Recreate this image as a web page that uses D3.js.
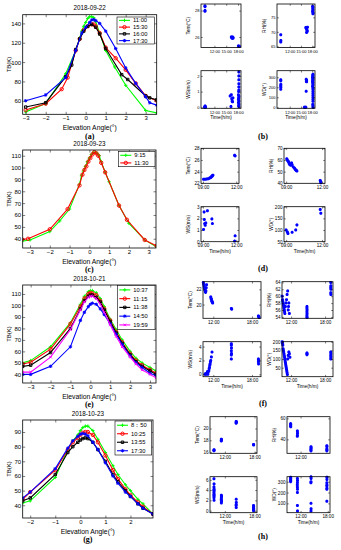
<!DOCTYPE html>
<html>
<head>
<meta charset="utf-8">
<script src="https://cdn.jsdelivr.net/npm/d3@7"></script>
<style>
body { margin: 0; background: #fff; }
</style>
</head>
<body>
<svg id="fig" width="341" height="550"></svg>
<script>
// ---- (a) 2018-09-22 brightness temperature vs elevation angle
var aLabels = ["11:00", "15:30", "16:00", "17:30"];
var aAngG = [-3.0, -2.0, -1.0, -0.5, -0.3, -0.2, -0.1, 0, 0.1, 0.2, 0.3, 0.4, 0.5, 0.7, 1.0, 1.45, 2.0, 3.0, 3.55];
var aTbG  = [48.5, 57, 88, 112, 125, 132, 137, 141, 145, 147, 147, 146, 142, 130, 112, 95, 76, 50, 47.5];
var aAngR = [-3.0, -2.0, -1.2, -0.9, -0.5, -0.3, -0.1, 0.1, 0.3, 0.4, 0.5, 0.7, 1.0, 1.5, 2.0, 2.5, 3.0, 3.55];
var aTbR  = [50.5, 57, 72, 84, 112, 124, 133, 137, 139, 139, 137, 130, 115, 104, 92, 78, 65, 60];
var aAngK = [-3.0, -2.0, -1.0, -0.7, -0.5, -0.3, -0.1, 0.1, 0.3, 0.5, 0.7, 1.0, 1.8, 2.1, 3.0, 3.2, 3.55];
var aTbK  = [53.5, 58, 85, 97, 113, 124, 132, 137, 139, 136, 129, 114, 87, 82, 65, 63, 61];
var aAngB = [-3.0, -2.0, -1.0, -0.5, -0.2, 0, 0.2, 0.3, 0.4, 0.5, 0.7, 1.0, 1.5, 2.0, 2.5, 3.0, 3.2, 3.55];
var aTbB  = [60, 66, 84, 112, 130, 136, 141, 143.5, 144, 143, 140, 132, 114, 94, 78, 64, 58, 55.5];

// ---- (c) 2018-09-23
var cLabels = ["9:15", "11:30"];
var cAngG = [-3.4, -3.0, -2.0, -1.5, -1.0, -0.5, -0.4, -0.3, -0.2, -0.1, 0, 0.1, 0.2, 0.3, 0.4, 0.5, 0.6, 0.8, 1.0, 1.5, 2.0, 2.8, 3.4];
var cTbG  = [38, 39, 46, 55, 65, 86, 93, 97, 101, 105, 108, 111, 112.5, 113, 112, 110, 105, 96, 88, 68, 53, 39, 33];
var cAngR = [-3.4, -3.1, -2.0, -1.1, -0.5, -0.35, -0.25, -0.15, -0.05, 0.05, 0.15, 0.25, 0.35, 0.45, 0.6, 0.8, 1.5, 1.9, 2.8, 3.4];
var cTbR  = [39.5, 40, 48, 65, 85, 94, 98, 101, 105, 108, 111, 113, 112, 110, 104, 96, 68, 56, 39, 34];

// ---- (e) 2018-10-21
var eLabels = ["10:37", "11:15", "11:38", "14:50", "19:59"];
var eAng = [-3.4, -3.0, -2.0, -1.0, -0.5, -0.3, -0.1, 0, 0.1, 0.3, 0.5, 0.7, 1.0, 1.3, 1.6, 2.0, 2.3, 2.6, 3.0, 3.3];
var eTbG = [50, 52, 64, 85, 101, 108, 112, 113, 113, 111, 106, 99, 88, 79, 70, 60, 54, 50, 46, 43];
var eTbR = [49, 50.5, 62, 84, 99, 106, 110, 111, 110.5, 109, 104, 97, 87, 77, 68, 58, 52, 48, 44, 41];
var eTbK = [47, 48, 59, 80, 97, 104, 108, 109, 109, 107, 103, 96, 86, 76, 67, 57, 51, 47, 43, 40];
var eTbB = [40, 40, 47, 64, 87, 94, 99, 101, 102, 101, 97, 92, 84, 75, 66, 56, 50, 46, 41, 39];
var eTbM = [42, 42, 55, 79, 96, 103, 107, 108, 108, 106, 101, 94, 83, 73, 64, 55, 49, 44, 40, 37];

// ---- (g) 2018-10-23
var gLabels = ["8：50", "10:25", "13:55", "17:30"];
var gAng = [-2.3, -2.0, -1.0, -0.5, -0.3, -0.1, 0, 0.1, 0.2, 0.3, 0.5, 0.7, 1.0, 1.3, 1.5, 1.8, 2.0, 2.3, 2.5, 2.9];
var gTbG = [41.5, 43, 59, 78, 84, 88, 91, 93, 94, 94, 91, 85, 76, 67, 61, 54, 50, 44, 41, 34];
var gTbR = [44, 49, 64, 78, 83, 86, 88, 89.5, 90, 90, 88, 83, 74, 64, 58, 51, 47, 42, 39, 34];
var gTbK = [43, 45, 61, 76, 80, 83, 84.5, 85.5, 86, 85.5, 83, 78, 70, 61, 56, 50, 46, 41, 38, 34];
var gTbB = [45, 49, 65, 79, 84, 87, 88.5, 89, 88.5, 87.5, 83, 78, 69, 60, 55, 49, 46, 41, 38, 34];

// ---- weather station records [hour, value]
var bTem = [[9.6,28.35],[9.62,28.3],[9.6,27.95],[9.62,28.0],[16.3,26.0],[16.4,25.95],[16.5,25.9],[16.6,26.0],[16.7,25.9],[16.75,25.95],[18.1,25.32],[18.2,25.28],[18.3,25.3],[18.25,25.27]];
var bRH  = [[9.6,69],[9.62,67],[9.6,66.5],[16.3,71.5],[16.4,71.3],[16.5,71],[16.6,70.6],[16.7,70.2],[16.5,69.8],[16.75,71.6],[18.1,78.8],[18.2,78.5],[18.15,78],[18.2,77.5],[18.1,77],[18.25,76.6],[18.2,76.2]];
var bWS  = [[9.5,0],[9.6,0.05],[9.65,0.08],[9.7,0.02],[9.75,0],[16.0,0.72],[16.3,0.8],[16.4,0.55],[16.5,0.4],[16.6,0.35],[16.2,0.05],[16.7,0.6],[18.2,2.25],[18.2,2.0],[18.2,1.75],[18.2,1.5],[18.2,1.3],[18.2,1.1],[18.15,1.0],[18.1,0.8],[18.2,0.7],[18.15,0.6],[18.1,0.5],[18.2,0.4],[18.1,0.3],[18.2,0.2],[18.15,0.1],[18.2,0.05]];
var bWD  = [[9.6,275],[9.6,265],[9.62,230],[9.6,215],[9.62,200],[9.6,180],[16.4,280],[16.5,270],[16.45,260],[16.5,255],[16.4,160],[15.9,0],[16.1,0],[16.3,0],[18.2,330],[18.15,320],[18.2,310],[18.1,300],[18.2,290],[18.15,280],[18.2,270],[18.1,260],[18.2,250],[18.15,240],[18.2,225],[18.1,210],[18.2,195],[18.2,180],[18.2,160],[18.2,140],[18.2,120],[18.2,100],[18.2,80],[18.2,60],[18.15,30],[18.2,15],[18.2,0]];

var dTem = [[9.05,22.7],[9.2,22.7],[9.35,22.75],[9.5,22.8],[9.6,22.9],[9.7,23.0],[9.75,23.1],[9.8,23.2],[9.85,23.3],[9.9,23.4],[11.85,26.8],[11.9,26.7]];
var dRH  = [[9.05,61],[9.1,60],[9.15,59],[9.2,58.5],[9.25,57],[9.3,56],[9.4,55.5],[9.45,57.5],[9.5,56],[9.6,54],[9.7,53],[9.75,52],[9.8,51.5],[9.85,51],[9.9,50.5],[11.85,42.5],[11.88,41.5],[11.9,40.5]];
var dWS  = [[9.05,1.05],[9.1,2.55],[9.12,1.9],[9.15,1.55],[9.2,1.4],[9.25,1.6],[9.4,2.65],[9.8,1.95],[9.85,1.55],[11.85,0.05],[11.9,0.5]];
var dWD  = [[9.0,100],[9.1,92],[9.15,85],[9.5,90],[9.8,100],[9.9,122],[11.85,188],[11.9,172]];

var fTem = [[10.45,22.9],[10.5,22.7],[10.55,22.5],[10.6,22.3],[10.65,22.1],[10.7,21.9],[10.75,21.7],[10.8,21.6],[10.85,21.8],[10.9,22.2],[10.95,22.6],[11.6,21.0],[11.65,20.8],[11.7,20.7],[11.75,20.5],[11.8,20.4],[11.85,20.3],[11.9,20.2],[14.8,19.5],[14.85,19.4],[19.0,18.5],[19.05,18.4],[19.1,18.3]];
var fRH  = [[10.45,60],[10.5,59],[10.55,58.5],[10.6,58],[10.65,57.5],[10.7,57],[10.75,56.5],[10.8,56],[10.85,55.5],[10.9,55],[11.0,57],[11.1,58],[11.2,59],[11.3,60.5],[11.4,61.5],[11.5,56],[11.55,57],[11.6,58],[11.7,55],[14.8,57],[14.8,56.5],[14.82,56],[14.8,55.5],[14.82,55],[14.8,54.5],[14.8,54],[14.82,53.8],[19.0,64],[19.02,63],[19.0,62.5],[19.02,62],[19.0,61],[19.02,60.5]];
var fWS  = [[10.7,0],[10.8,0.1],[10.9,0],[11.0,0.2],[11.1,0.4],[11.15,0],[11.2,0.3],[11.3,0.5],[11.35,0.8],[11.4,1.0],[11.45,1.3],[11.5,1.5],[11.55,1.8],[11.6,2.0],[11.7,2.5],[11.8,3.2],[14.8,4.4],[14.8,4.2],[14.82,3.8],[14.8,3.4],[14.82,3.0],[14.8,2.8],[14.8,2.2],[19.0,2.2],[19.02,2.0],[19.0,1.8],[19.02,1.5]];
var fWD  = [[10.45,200],[10.5,190],[10.55,180],[10.6,160],[10.65,150],[10.7,140],[10.75,130],[10.8,120],[10.85,110],[10.9,100],[10.95,90],[11.0,80],[11.05,70],[11.1,60],[11.15,50],[11.2,40],[11.25,30],[11.3,20],[11.35,10],[11.4,100],[11.5,120],[11.6,140],[11.7,130],[11.8,110],[14.8,135],[14.82,130],[14.8,125],[19.0,140],[19.02,130],[19.0,120],[19.02,110],[19.0,100]];

var hTem = [[9.8,16.3],[9.82,16.4],[9.8,16.25],[11.3,18.0],[11.32,18.1],[11.3,18.2],[11.28,17.9],[14.3,21.0],[14.32,21.1],[14.3,21.2],[14.28,20.9],[17.8,17.3],[17.82,17.2]];
var hRH  = [[9.8,55],[9.82,54],[9.8,53],[9.82,52],[11.3,48],[11.32,46],[11.3,44],[11.28,43],[14.3,33],[14.32,32],[14.3,31],[14.28,30],[14.3,29],[17.8,34],[17.82,33],[17.8,31],[17.82,30],[17.8,29]];
var hWS  = [[9.8,6.2],[9.82,5.2],[9.8,4.6],[9.82,4.2],[9.8,4.0],[9.82,3.8],[9.8,3.5],[9.82,3.2],[9.8,3.0],[9.82,2.8],[9.8,2.5],[9.82,2.0],[11.3,3.0],[11.32,2.8],[11.3,2.5],[11.28,2.2],[11.3,2.0],[11.32,1.8],[11.3,1.5],[14.3,2.2],[14.32,1.6],[14.3,1.2],[14.28,1.0],[14.3,0.6],[17.8,1.0],[17.82,0.8],[17.8,0.6],[17.82,0.4],[17.8,0.3],[17.82,0.1],[17.8,0]];
var hWD  = [[9.8,340],[9.82,330],[9.8,320],[9.82,310],[9.8,300],[11.3,330],[11.32,310],[11.3,290],[11.28,270],[11.3,250],[11.32,230],[11.3,200],[11.3,80],[11.32,30],[14.3,345],[14.32,330],[14.3,300],[14.28,290],[14.3,100],[14.32,50],[14.3,30],[17.8,340],[17.82,320],[17.8,290],[17.82,270],[17.8,260],[17.82,240],[17.8,230],[17.8,120]];

var svg = d3.select("#fig");
svg.append("rect").attr("width", 341).attr("height", 550).attr("fill", "#fff");
var FONT = "Liberation Sans, Arial, sans-serif";

function markerPath(type, s) {
  var d = s * 0.72;
  if (type === "+") return "M" + (-s) + ",0H" + s + "M0," + (-s) + "V" + s;
  if (type === "x") return "M" + (-d) + "," + (-d) + "L" + d + "," + d + "M" + (-d) + "," + d + "L" + d + "," + (-d);
  if (type === "*") return "M" + (-s) + ",0H" + s + "M0," + (-s) + "V" + s + "M" + (-d) + "," + (-d) + "L" + d + "," + d + "M" + (-d) + "," + d + "L" + d + "," + (-d);
  if (type === "s") return "M" + (-d) + "," + (-d) + "H" + d + "V" + d + "H" + (-d) + "Z";
  return "M" + s + ",0A" + s + "," + s + " 0 1,1 " + (-s) + ",0A" + s + "," + s + " 0 1,1 " + s + ",0Z";
}

// box with inward ticks on all four sides (matlab style)
function drawFrame(g, x, y, xTicks, xFmt, yTicks, fs, tl, xPad) {
  var b = g.append("g").attr("transform", "translate(0," + y.range()[0] + ")")
    .call(d3.axisBottom(x).tickValues(xTicks).tickFormat(xFmt).tickSize(-tl).tickPadding(xPad));
  var l = g.append("g").attr("transform", "translate(" + x.range()[0] + ",0)")
    .call(d3.axisLeft(y).tickValues(yTicks).tickFormat(d3.format("d")).tickSize(-tl).tickPadding(1.5));
  var t = g.append("g").attr("transform", "translate(0," + y.range()[1] + ")")
    .call(d3.axisTop(x).tickValues(xTicks).tickFormat("").tickSize(-tl));
  var r = g.append("g").attr("transform", "translate(" + x.range()[1] + ",0)")
    .call(d3.axisRight(y).tickValues(yTicks).tickFormat("").tickSize(-tl));
  [b, l, t, r].forEach(function(a) {
    a.select(".domain").remove();
    a.attr("font-size", fs).attr("font-family", FONT);
    a.selectAll("line").attr("stroke-width", 0.5);
  });
  g.append("rect")
    .attr("x", x.range()[0]).attr("y", y.range()[1])
    .attr("width", x.range()[1] - x.range()[0])
    .attr("height", y.range()[0] - y.range()[1])
    .attr("fill", "none").attr("stroke", "#000").attr("stroke-width", 0.8);
}

var clipId = 0;
function linePanel(p) {
  var g = svg.append("g");
  var x = d3.scaleLinear().domain(p.xDom).range([p.box[0], p.box[2]]);
  var y = d3.scaleLinear().domain(p.yDom).range([p.box[3], p.box[1]]);
  var id = "clip" + (clipId++);
  g.append("clipPath").attr("id", id).append("rect")
    .attr("x", p.box[0]).attr("y", p.box[1])
    .attr("width", p.box[2] - p.box[0]).attr("height", p.box[3] - p.box[1]);
  var plot = g.append("g").attr("clip-path", "url(#" + id + ")");
  var line = d3.line().x(function(d) { return x(d[0]); }).y(function(d) { return y(d[1]); });
  p.series.forEach(function(s) {
    var pts = s.x.map(function(v, i) { return [v, s.y[i]]; });
    plot.append("path").datum(pts).attr("d", line)
      .attr("fill", "none").attr("stroke", s.color).attr("stroke-width", 1.1);
    plot.selectAll(null).data(pts).enter().append("path")
      .attr("transform", function(d) { return "translate(" + x(d[0]) + "," + y(d[1]) + ")"; })
      .attr("d", markerPath(s.marker, 1.7))
      .attr("fill", "none").attr("stroke", s.color).attr("stroke-width", 0.95);
  });
  drawFrame(g, x, y, p.xTicks, d3.format("d"), p.yTicks, 6, 2.5, 1.5);

  // legend
  var L = p.legend;
  var lg = g.append("g");
  lg.append("rect").attr("x", L[0]).attr("y", L[1]).attr("width", L[2] - L[0]).attr("height", L[3] - L[1])
    .attr("fill", "#fff").attr("stroke", "#000").attr("stroke-width", 0.6);
  var step = (L[3] - L[1]) / p.series.length;
  p.series.forEach(function(s, i) {
    var cy = L[1] + step * (i + 0.5);
    lg.append("line").attr("x1", L[0] + 2).attr("x2", L[0] + 13).attr("y1", cy).attr("y2", cy)
      .attr("stroke", s.color).attr("stroke-width", 1.1);
    lg.append("path").attr("transform", "translate(" + (L[0] + 7.5) + "," + cy + ")")
      .attr("d", markerPath(s.marker, 1.7)).attr("fill", "none").attr("stroke", s.color).attr("stroke-width", 0.95);
    lg.append("text").attr("x", L[0] + 16).attr("y", cy + 2).attr("font-size", 5.8)
      .attr("font-family", FONT).text(s.label);
  });

  var cx = (p.box[0] + p.box[2]) / 2;
  g.append("text").attr("x", cx).attr("y", p.box[1] - 4.5).attr("text-anchor", "middle")
    .attr("font-size", 6.3).attr("font-family", FONT).text(p.title);
  g.append("text").attr("x", cx).attr("y", p.box[3] + 15.5).attr("text-anchor", "middle")
    .attr("font-size", 6.8).attr("font-family", FONT).text("Elevation Angle(°)");
  g.append("text").attr("transform", "translate(" + (p.box[0] - 12) + "," + ((p.box[1] + p.box[3]) / 2) + ") rotate(-90)")
    .attr("text-anchor", "middle").attr("font-size", 6).attr("font-family", FONT).text("TB(K)");
  g.append("text").attr("x", cx).attr("y", p.box[3] + 24.3).attr("text-anchor", "middle")
    .attr("font-size", 8).attr("font-weight", "bold").attr("font-family", "Liberation Serif, serif").text(p.tag);
}

function timeFmt(h) { return (h < 10 ? "0" : "") + h + ":00"; }

function scatterPanel(q, data, yDom, yTicks, yLabel, withX) {
  var g = svg.append("g");
  var x = d3.scaleLinear().domain(q.xDom).range([q.box[0], q.box[2]]);
  var y = d3.scaleLinear().domain(yDom).range([q.box[3], q.box[1]]);
  g.selectAll(null).data(data).enter().append("path")
    .attr("transform", function(d) { return "translate(" + x(d[0]) + "," + y(d[1]) + ")"; })
    .attr("d", markerPath("*", 1.5))
    .attr("fill", "none").attr("stroke", "#0000ff").attr("stroke-width", 1.15);
  drawFrame(g, x, y, q.xTicks, timeFmt, yTicks, q.fs, 1.8, 2.4);
  g.append("text").attr("transform", "translate(" + (q.box[0] - 11) + "," + ((q.box[1] + q.box[3]) / 2) + ") rotate(-90)")
    .attr("text-anchor", "middle").attr("font-size", 4.8).attr("font-family", FONT).text(yLabel);
  if (withX) {
    g.append("text").attr("x", (q.box[0] + q.box[2]) / 2).attr("y", q.box[3] + 11)
      .attr("text-anchor", "middle").attr("font-size", 4.8).attr("font-family", FONT).text("Time(h/m)");
  }
}

function weatherGroup(w) {
  var box = function(c, r) { return [c[0], r[0], c[1], r[1]]; };
  var fs = w.fs || 4.6;
  scatterPanel({box: box(w.c1, w.r1), xDom: w.xDom, xTicks: w.xTicks, fs: fs}, w.tem, w.temDom, w.temTicks, "Tem(°C)", false);
  scatterPanel({box: box(w.c2, w.r1), xDom: w.xDom, xTicks: w.xTicks2 || w.xTicks, fs: fs}, w.rh, w.rhDom, w.rhTicks, "RH(%)", false);
  scatterPanel({box: box(w.c1, w.r2), xDom: w.xDom, xTicks: w.xTicks, fs: fs}, w.ws, w.wsDom, w.wsTicks, "WS(m/s)", true);
  scatterPanel({box: box(w.c2, w.r2), xDom: w.xDom, xTicks: w.xTicks, fs: fs}, w.wd, w.wdDom, w.wdTicks, "WD(°)", true);
  svg.append("text").attr("x", 263).attr("y", w.tagY).attr("text-anchor", "middle")
    .attr("font-size", 8).attr("font-weight", "bold").attr("font-family", "Liberation Serif, serif").text(w.tag);
}

var G = "#00ff00", R = "#ff0000", K = "#000000", B = "#0000ff", M = "#ff00ff";

linePanel({
  box: [22.7, 14.7, 156.7, 114.3], xDom: [-3.15, 3.55], yDom: [46, 149],
  xTicks: [-3, -2, -1, 0, 1, 2, 3], yTicks: [60, 80, 100, 120, 140],
  title: "2018-09-22", tag: "(a)", legend: [117, 17, 154.5, 44],
  series: [
    {x: aAngG, y: aTbG, color: G, marker: "+", label: aLabels[0]},
    {x: aAngR, y: aTbR, color: R, marker: "o", label: aLabels[1]},
    {x: aAngK, y: aTbK, color: K, marker: "s", label: aLabels[2]},
    {x: aAngB, y: aTbB, color: B, marker: "*", label: aLabels[3]}
  ]
});

linePanel({
  box: [22.7, 150, 156, 248], xDom: [-3.37, 3.37], yDom: [32.2, 114.8],
  xTicks: [-3, -2, -1, 0, 1, 2, 3], yTicks: [40, 50, 60, 70, 80, 90, 100, 110],
  title: "2018-09-23", tag: "(c)", legend: [118.3, 151.5, 155, 166.7],
  series: [
    {x: cAngG, y: cTbG, color: G, marker: "+", label: cLabels[0]},
    {x: cAngR, y: cTbR, color: R, marker: "o", label: cLabels[1]}
  ]
});

linePanel({
  box: [22.7, 285, 156, 383], xDom: [-3.4, 3.3], yDom: [32.5, 117.8],
  xTicks: [-3, -2, -1, 0, 1, 2, 3], yTicks: [40, 50, 60, 70, 80, 90, 100, 110],
  title: "2018-10-21", tag: "(e)", legend: [117.3, 285.5, 155, 329.3],
  series: [
    {x: eAng, y: eTbG, color: G, marker: "+", label: eLabels[0]},
    {x: eAng, y: eTbR, color: R, marker: "o", label: eLabels[1]},
    {x: eAng, y: eTbK, color: K, marker: "s", label: eLabels[2]},
    {x: eAng, y: eTbB, color: B, marker: "*", label: eLabels[3]},
    {x: eAng, y: eTbM, color: M, marker: "x", label: eLabels[4]}
  ]
});

linePanel({
  box: [22.7, 420, 153, 518], xDom: [-2.3, 2.9], yDom: [31.3, 98.2],
  xTicks: [-2, -1, 0, 1, 2], yTicks: [40, 50, 60, 70, 80, 90],
  title: "2018-10-23", tag: "(g)", legend: [115, 421, 151.7, 455],
  series: [
    {x: gAng, y: gTbG, color: G, marker: "+", label: gLabels[0]},
    {x: gAng, y: gTbR, color: R, marker: "o", label: gLabels[1]},
    {x: gAng, y: gTbK, color: K, marker: "s", label: gLabels[2]},
    {x: gAng, y: gTbB, color: B, marker: "*", label: gLabels[3]}
  ]
});

weatherGroup({
  c1: [201, 241], c2: [277, 315], fs: 4.1,
  r1: [4, 47.5], r2: [70.7, 108.3], xDom: [8.6, 18.75], xTicks: [12, 15, 18], tag: "(b)", tagY: 139,
  tem: bTem, temDom: [25.2, 28.5], temTicks: [26, 28],
  rh: bRH, rhDom: [64.6, 79.6], rhTicks: [65, 70, 75],
  ws: bWS, wsDom: [-0.06, 2.33], wsTicks: [0, 1, 2],
  wd: bWD, wdDom: [-10, 366], wdTicks: [0, 100, 200, 300]
});

weatherGroup({
  c1: [201, 239], c2: [284, 325],
  r1: [148.3, 183.3], r2: [206.7, 241.7], xDom: [8.82, 12.25], xTicks: [9, 12], tag: "(d)", tagY: 270.5,
  tem: dTem, temDom: [22, 28], temTicks: [22, 24, 26, 28],
  rh: dRH, rhDom: [40, 70], rhTicks: [40, 50, 60, 70],
  ws: dWS, wsDom: [0, 3], wsTicks: [0, 1, 2, 3],
  wd: dWD, wdDom: [50, 200], wdTicks: [50, 100, 150, 200]
});

weatherGroup({
  c1: [203, 261], c2: [282, 333],
  r1: [281.7, 318.3], r2: [341.7, 376.7], xDom: [10.4, 19.4], xTicks: [12, 18], tag: "(f)", tagY: 405.5,
  tem: fTem, temDom: [18.2, 23], temTicks: [20, 22],
  rh: fRH, rhDom: [53.6, 64.2], rhTicks: [54, 56, 58, 60, 62, 64],
  ws: fWS, wsDom: [-0.34, 4.7], wsTicks: [0, 2, 4],
  wd: fWD, wdDom: [-2, 200], wdTicks: [50, 100, 150, 200]
});

weatherGroup({
  c1: [210, 257], c2: [287, 330],
  r1: [416.7, 453.3], r2: [476.7, 512.7], xDom: [9, 18.5], xTicks: [12, 18], xTicks2: [12], tag: "(h)", tagY: 539,
  tem: hTem, temDom: [15.8, 22], temTicks: [16, 18, 20],
  rh: hRH, rhDom: [26.7, 61.6], rhTicks: [40, 60],
  ws: hWS, wsDom: [-0.4, 6.6], wsTicks: [0, 2, 4, 6],
  wd: hWD, wdDom: [14, 346], wdTicks: [100, 200, 300]
});
</script>
</body>
</html>
